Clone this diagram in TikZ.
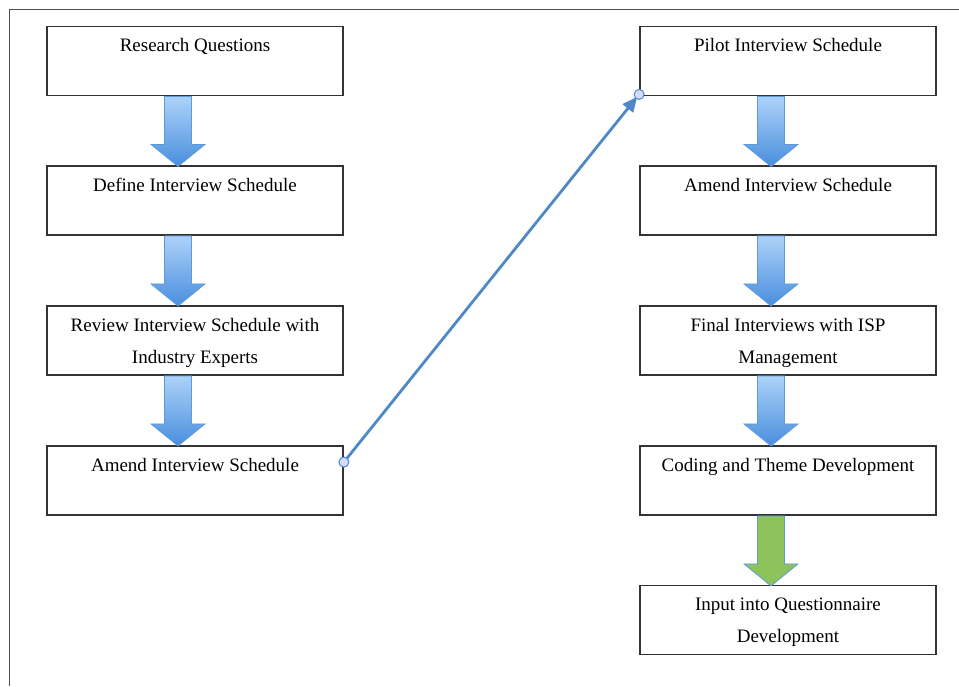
\documentclass[tikz,border=0pt]{standalone}
\usepackage{fontspec}
\setmainfont{Liberation Serif}
\usetikzlibrary{calc,arrows.meta}

\definecolor{boxline}{HTML}{333333}
\definecolor{frameline}{HTML}{505050}
\definecolor{arrowtop}{HTML}{ADD2F8}
\definecolor{arrowbot}{HTML}{4A8EDE}
\definecolor{arrowedge}{HTML}{5C9AD8}
\definecolor{greenfill}{HTML}{8DC35A}
\definecolor{connblue}{HTML}{4F88CA}
\definecolor{dotfill}{HTML}{D3DCFA}

\tikzset{
  box/.style={draw=boxline, line width=1.8pt, minimum width=296pt, minimum height=69pt,
    inner sep=0pt, fill=white},
  lbl/.style={anchor=base, align=center, inner sep=0pt,
    font=\fontsize{19}{32}\selectfont},
  conn/.style={draw=connblue, line width=2.8pt, -{Triangle[length=15pt,width=13pt]},
    shorten >=3pt},
  enddot/.style={circle, draw=connblue, line width=1pt, fill=dotfill, minimum size=10pt, inner sep=0pt},
  bluearrow/.style={top color=arrowtop, bottom color=arrowbot, draw=arrowedge, line width=0.8pt},
  greenarrow/.style={fill=greenfill, draw=arrowedge, line width=0.8pt}
}

% block arrow hanging below a box: shaft 27 wide, head 54 wide, 70 long
\newcommand{\blockarrow}[2]{% #1 box name, #2 style
  \path[#2] ($(#1.south)+(-30.5,0)$) -- ++(27,0) -- ++(0,48) -- ++(13.5,0)
    -- ++(-27,22) -- ++(-27,-22) -- ++(13.5,0) -- cycle;
}

\begin{document}
\begin{tikzpicture}[x=1pt, y=-1pt]
\useasboundingbox (0,0) rectangle (959,686);

% page frame
\draw[frameline, line width=1.8pt] (9.5,686) -- (9.5,9.5) -- (959,9.5);

% left column
\node[box] (a1) at (195,61) {};
\node[box] (a2) at (195,200.5) {};
\node[box] (a3) at (195,340.5) {};
\node[box] (a4) at (195,480.5) {};
% right column
\node[box] (b1) at (788,61) {};
\node[box] (b2) at (788,200.5) {};
\node[box] (b3) at (788,340.5) {};
\node[box] (b4) at (788,480.5) {};
\node[box] (b5) at (788,620) {};

% block arrows between boxes
\blockarrow{a1}{bluearrow}
\blockarrow{a2}{bluearrow}
\blockarrow{a3}{bluearrow}
\blockarrow{b1}{bluearrow}
\blockarrow{b2}{bluearrow}
\blockarrow{b3}{bluearrow}
\blockarrow{b4}{greenarrow}

% labels (base anchor sits on the last line's baseline)
\node[lbl] (ta1) at ($(a1.north)+(0,26)$) {Research Questions};
\node[lbl] (ta2) at ($(a2.north)+(0,26)$) {Define Interview Schedule};
\node[lbl] (ta3) at ($(a3.north)+(0,58)$) {Review Interview Schedule with\\Industry Experts};
\node[lbl] (ta4) at ($(a4.north)+(0,26)$) {Amend Interview Schedule};
\node[lbl] (tb1) at ($(b1.north)+(0,26)$) {Pilot Interview Schedule};
\node[lbl] (tb2) at ($(b2.north)+(0,26)$) {Amend Interview Schedule};
\node[lbl] (tb3) at ($(b3.north)+(0,58)$) {Final Interviews with ISP\\Management};
\node[lbl] (tb4) at ($(b4.north)+(0,26)$) {Coding and Theme Development};
\node[lbl] (tb5) at ($(b5.north)+(0,58)$) {Input into Questionnaire\\Development};

% connector from the last left box to the first right box
\coordinate (cs) at ($(a4.north east)+(0,17)$);
\coordinate (ce) at ($(b1.south west)+(0,-2)$);
\draw[conn] (cs) -- (ce);
\node[enddot] (ds) at (cs) {};
\node[enddot] (de) at (ce) {};
\end{tikzpicture}
\end{document}
